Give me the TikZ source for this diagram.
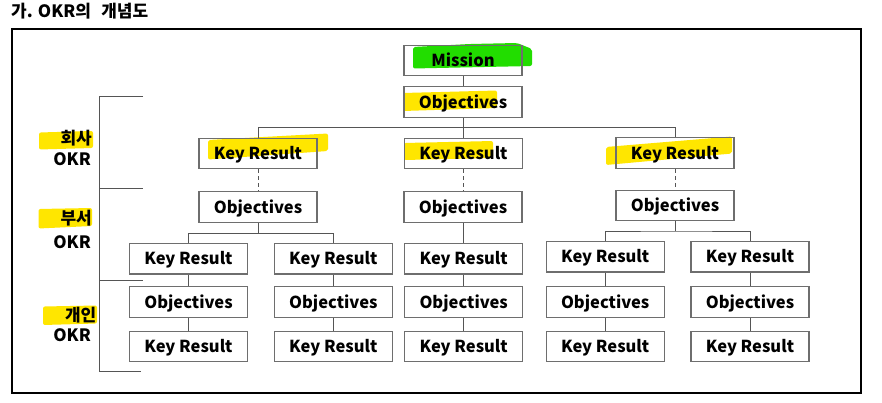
\documentclass[tikz,border=0pt]{standalone}
\usepackage{fontspec}
\setmainfont{Noto Sans CJK KR}
\definecolor{boxgray}{RGB}{110,110,110}
\definecolor{linegray}{RGB}{85,85,85}
\definecolor{hlyellow}{RGB}{255,230,0}
\definecolor{hlgreen}{RGB}{34,221,0}
\begin{document}
\begin{tikzpicture}[x=1pt,y=-1pt,
  box/.style={draw=boxgray, line width=1.1pt, minimum width=118pt, minimum height=30.5pt, inner sep=0pt,
    text height=13pt, text depth=0.6pt,
    font=\fontsize{16.5}{20}\selectfont\bfseries},
  conn/.style={draw=linegray, line width=1pt},
  dconn/.style={conn, dashed, dash pattern=on 4pt off 3pt},
  hl/.style={fill=hlyellow, draw=none, rounded corners=2pt},
  lab/.style={anchor=east, inner sep=0pt, text height=13pt, text depth=0.6pt,
    font=\fontsize{17}{19}\selectfont\bfseries}]
\useasboundingbox (0,0) rectangle (882,403);
\fill[white] (0,0) rectangle (882,403);

% title
\node[anchor=west, inner sep=0pt, text height=13pt, text depth=0.6pt,
  font=\fontsize{17}{19}\selectfont\bfseries] (title) at (11,11) {가. OKR의\hspace{0.6em}개념도};

% frame
\draw[black, line width=1.2pt] (12,29) rectangle (861,393);

% highlights
\fill[hlgreen, rounded corners=2pt] (413,47) -- (470,44) -- (517,43) -- (532,49) -- (532,66) -- (413,68.5) -- cycle;
\fill[hl] (403,93) -- (497,90.5) -- (497,108) -- (403,111) -- cycle;
\fill[hl] (208,140) -- (328,133.5) -- (328,151) -- (208,159.5) -- cycle;
\fill[hl] (404,143) -- (493,141) -- (493,158) -- (404,160) -- cycle;
\fill[hl] (606,147) -- (732,136.5) -- (732,153.5) -- (606,165) -- cycle;
\fill[hl] (39,132.5) -- (93,131) -- (93,148) -- (39,149.5) -- cycle;
\fill[hl] (38.5,209) -- (92,208) -- (92,226) -- (38.5,228.5) -- cycle;
\fill[hl] (43,306.5) -- (97,305.5) -- (97,323.5) -- (43,325) -- cycle;

% side labels
\node[lab] (l1a) at (92,138.5) {회사};
\node[lab] (l1b) at (91,159) {OKR};
\node[lab] (l2a) at (92,218.5) {부서};
\node[lab] (l2b) at (91,242.5) {OKR};
\node[lab] (l3a) at (96.5,315) {개인};
\node[lab] (l3b) at (91,335) {OKR};

% bracket
\coordinate (bt) at (143,97);
\coordinate (bm1) at (143,188.5);
\coordinate (bm2) at (143,280);
\coordinate (bb) at (141,371);
\draw[conn] (bt) -| (99,371) -- (bb);
\draw[conn] (99,188.5) -- (bm1);
\draw[conn] (99,280) -- (bm2);

% top
\node[box] (m) at (463,60.5) {Mission};
\node[box] (o0) at (463,102) {Objectives};

% level 1
\node[box] (k1a) at (258,153.5) {Key Result};
\node[box] (k1b) at (463.5,153.5) {Key Result};
\node[box] (k1c) at (675,153) {Key Result};

% level 2 objectives
\node[box] (o2a) at (258,207) {Objectives};
\node[box] (o2b) at (463,207) {Objectives};
\node[box] (o2c) at (675,205.5) {Objectives};

% level 3 key results
\node[box] (k3a) at (188.5,258.7) {Key Result};
\node[box] (k3b) at (333.3,258.7) {Key Result};
\node[box] (k3c) at (463.7,258.7) {Key Result};
\node[box] (k3d) at (605.2,256.7) {Key Result};
\node[box] (k3e) at (750,256.7) {Key Result};

% level 4 objectives
\node[box] (o4a) at (188.5,302) {Objectives};
\node[box] (o4b) at (333.3,302) {Objectives};
\node[box] (o4c) at (463.7,302) {Objectives};
\node[box] (o4d) at (605.2,302) {Objectives};
\node[box] (o4e) at (750,302) {Objectives};

% level 5 key results
\node[box] (k5a) at (188.5,346.5) {Key Result};
\node[box] (k5b) at (333.3,346.5) {Key Result};
\node[box] (k5c) at (463.7,346.5) {Key Result};
\node[box] (k5d) at (605.2,346.5) {Key Result};
\node[box] (k5e) at (750,346.5) {Key Result};

% connectors
\draw[conn] (m.south) -- (o0.north);
\coordinate (bus1) at (463,127.5);
\draw[conn] (o0.south) -- (bus1);
\draw[conn] (k1a.north) |- (bus1) -| (k1c.north);
\draw[conn] (bus1) -- (bus1 -| k1b.north) -- (k1b.north);

\draw[dconn] (k1a.south) -- (o2a.north);
\draw[dconn] (k1b.south) -- (k1b.south |- o2b.north);
\draw[dconn] (k1c.south) -- (o2c.north);

\coordinate (bus2) at (258,233.3);
\draw[conn] (o2a.south) -- (bus2);
\draw[conn] (k3a.north) |- (bus2) -| (k3b.north);
\draw[conn] (o2b.south -| k3c.north) -- (k3c.north);
\coordinate (bus3) at (675,231);
\draw[conn] (o2c.south) -- (bus3);
\draw[conn] (k3d.north) |- (bus3) -| (k3e.north);

\foreach \c in {a,b,c,d,e}{
  \draw[conn] (k3\c.south) -- (o4\c.north);
  \draw[conn] (o4\c.south) -- (k5\c.north);
}
\end{tikzpicture}
\end{document}
